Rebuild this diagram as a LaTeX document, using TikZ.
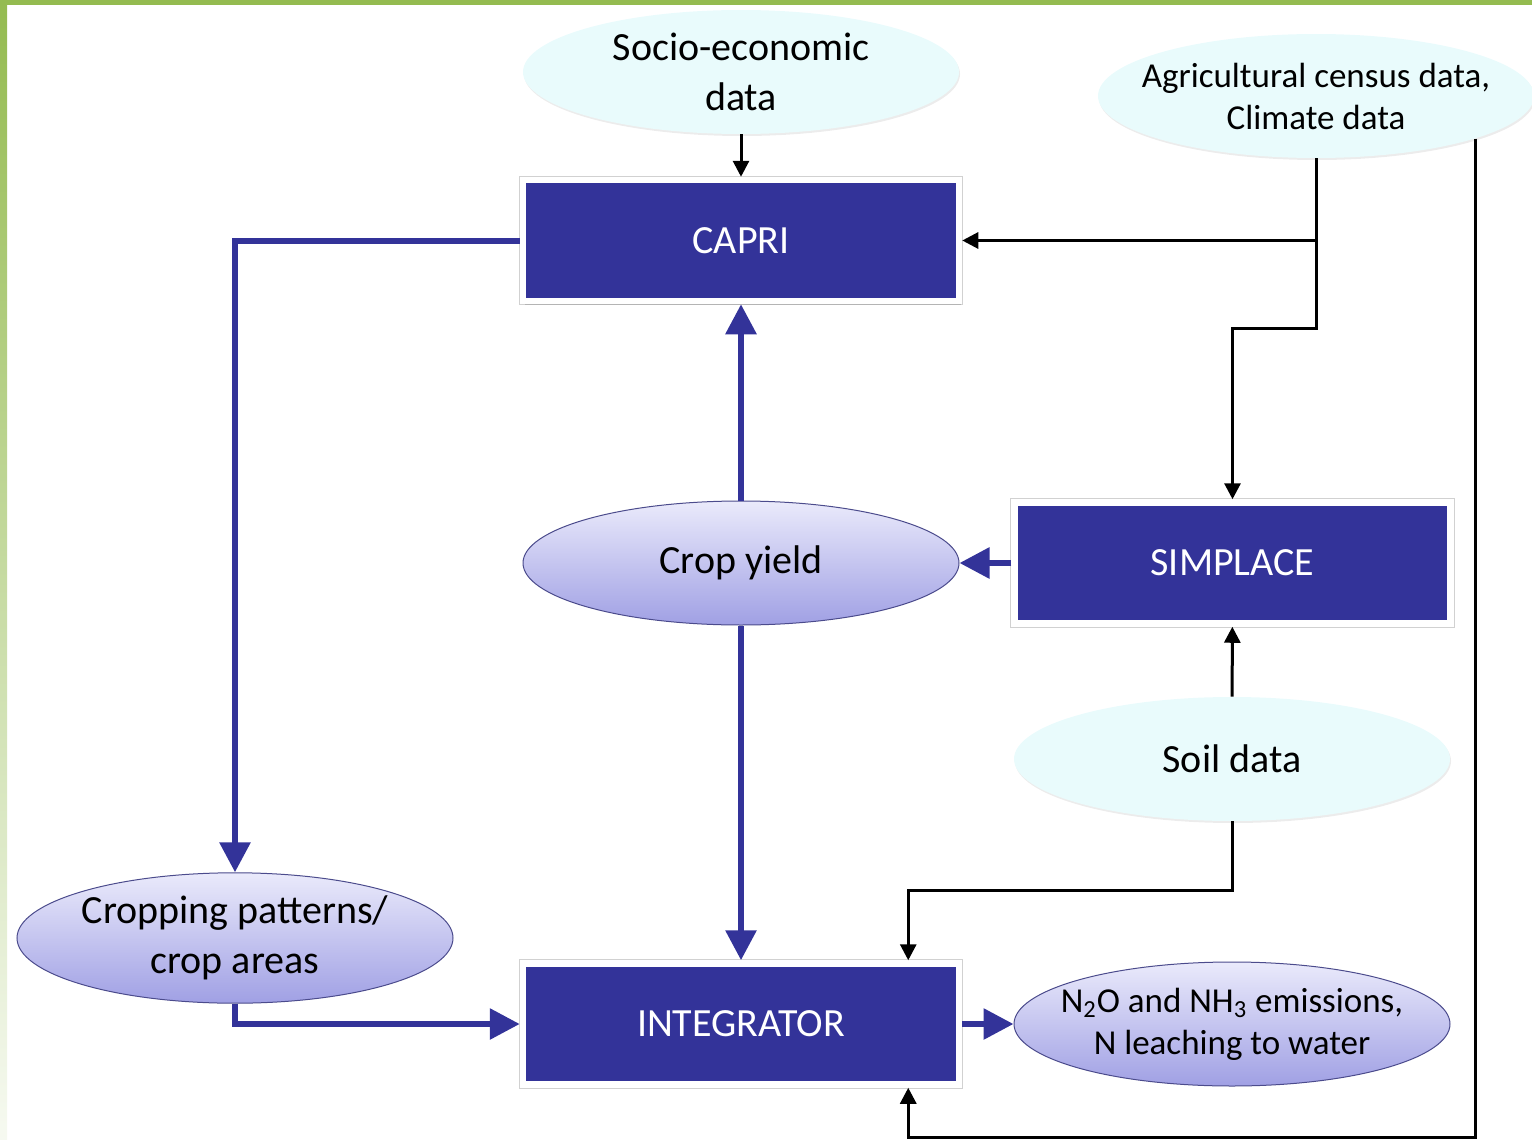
\documentclass[tikz,border=0pt]{standalone}
\usepackage{fontspec}
\setmainfont{Carlito}
\usepackage{tikz}
\usetikzlibrary{arrows.meta,positioning,shapes.geometric,shadows}
\definecolor{capriblue}{RGB}{51,51,153}
\definecolor{mistcyan}{RGB}{233,251,252}
\definecolor{lavtop}{RGB}{234,234,251}
\definecolor{lavbot}{RGB}{160,160,228}
\definecolor{lavedge}{RGB}{75,75,140}
\definecolor{slidegreen}{RGB}{148,187,80}
\tikzset{
  base/.style={font=\fontsize{20}{25}\selectfont, align=center, inner sep=2pt, text=black},
  small/.style={font=\fontsize{17.5}{21}\selectfont, inner xsep=-14pt},
  box/.style={base, rectangle, draw=white, line width=3.25pt, fill=capriblue, text=white, minimum width=218pt, minimum height=60.5pt, preaction={draw=black!18, line width=4.4pt}, drop shadow={shadow xshift=1.2pt, shadow yshift=-1.8pt, opacity=0.35}},
  src/.style={base, ellipse, fill=mistcyan, minimum width=218pt, minimum height=62pt, drop shadow={shadow xshift=0.5pt, shadow yshift=-1pt, opacity=0.15}},
  res/.style={base, ellipse, draw=lavedge, line width=0.5pt, top color=lavtop, bottom color=lavbot, minimum width=218pt, minimum height=62pt},
  arr/.style={-{Triangle[length=8pt,width=8pt]}, line width=1.5pt, draw=black},
  arrb/.style={-{Triangle[length=15pt,width=15pt]}, line width=3pt, draw=capriblue},
}
\begin{document}
\begin{tikzpicture}[x=0.5pt,y=-0.5pt]
  \useasboundingbox (0,0) rectangle (1532,1140);
  % slide frame
  \shade[top color=slidegreen, bottom color=slidegreen!8] (0,0) rectangle (7,1140);
  \fill[slidegreen] (0,0) rectangle (1532,5);
  % data sources
  \node[src] (socio) at (741,72) {Socio-economic\\data};
  \node[src,small] (census) at (1316,96) {Agricultural census data,\\Climate data};
  \node[src] (soil) at (1232,759) {Soil data};
  % models
  \node[box] (capri) at (741,240.5) {CAPRI};
  \node[box] (simplace) at (1232.5,563) {SIMPLACE};
  \node[box] (integ) at (741,1024) {INTEGRATOR};
  % results
  \node[res] (yield) at (741,563) {Crop yield};
  \node[res,inner xsep=-4pt] (crop) at (235,938) {Cropping patterns/\\crop areas};
  \node[res,small] (emis) at (1232,1024) {N\textsubscript{2}O and NH\textsubscript{3} emissions,\\N leaching to water};
  % kinks
  \coordinate (kink) at (1280,328);
  \coordinate (soilkink) at (1100,890);
  \coordinate (bottom) at (1000,1137);
  % black connectors
  \draw[arr] (socio) -- (capri);
  \draw[arr] (census.south) |- (capri.east);
  \draw[arr] (census.south) |- (kink) -| (simplace.north);
  \draw[arr] (soil) -- (simplace);
  \draw[arr] (soil.south) |- (soilkink) -| ([xshift=-27pt]integ.north east);
  \draw[arr] (census.-15.5) |- (bottom) -| ([xshift=-27pt]integ.south east);
  % blue connectors
  \draw[arrb] (capri.west) -| (crop.north);
  \draw[arrb] (yield) -- (capri);
  \draw[arrb] (yield) -- (integ);
  \draw[arrb] (simplace) -- (yield);
  \draw[arrb] (crop.south) |- (integ.west);
  \draw[arrb] (integ) -- (emis);
\end{tikzpicture}
\end{document}
